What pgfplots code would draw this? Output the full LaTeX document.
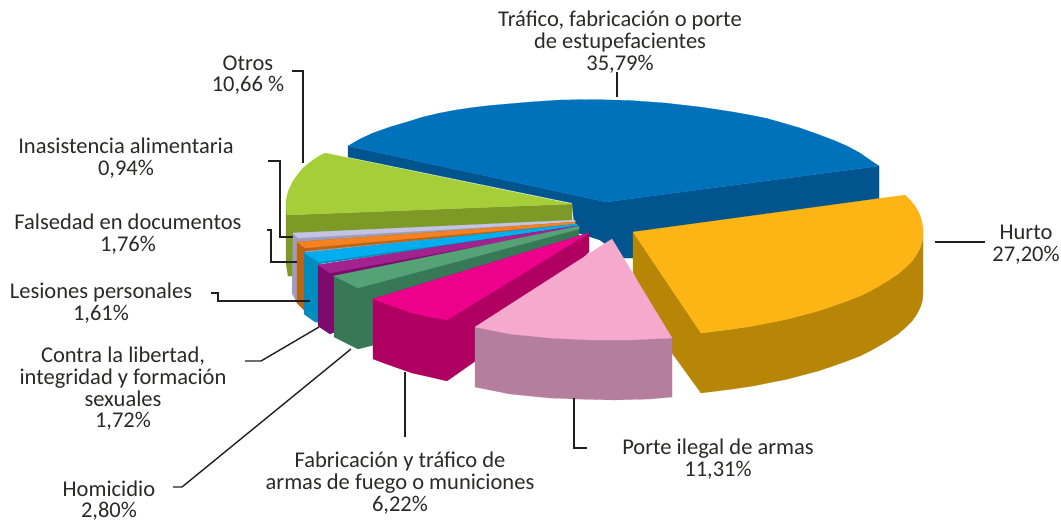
\documentclass[border=0pt]{standalone}
\usepackage{pgfplots}
\usepackage{fontspec}
\setmainfont{Carlito}
\pgfplotsset{compat=1.18}
\definecolor{tx}{HTML}{2B2A29}
\definecolor{ln}{HTML}{231F20}
\definecolor{bluT}{HTML}{0071BB}\definecolor{bluS}{HTML}{00558F}
\definecolor{golT}{HTML}{FDB515}\definecolor{golS}{HTML}{B88607}
\definecolor{pinT}{HTML}{F4A9CD}\definecolor{pinS}{HTML}{B67E9D}
\definecolor{magT}{HTML}{EC008C}\definecolor{magS}{HTML}{AF0061}
\definecolor{grnT}{HTML}{55A277}\definecolor{grnS}{HTML}{377856}
\definecolor{purT}{HTML}{A3238E}\definecolor{purS}{HTML}{7F0A6E}
\definecolor{cyaT}{HTML}{00AEEF}\definecolor{cyaS}{HTML}{008CBF}
\definecolor{oraT}{HTML}{F58220}\definecolor{oraS}{HTML}{BC6414}
\definecolor{lavT}{HTML}{C5C3E3}\definecolor{lavS}{HTML}{9F9DBC}
\definecolor{oliT}{HTML}{A6CE39}\definecolor{oliS}{HTML}{7D9A27}
\tikzset{lab/.style={text=tx,align=center,inner sep=0pt,font=\fontsize{22.5}{21.7}\selectfont}}
\pgfplotsset{face/.style={fill=#1,draw=#1,line width=0.2pt,mark=none,line join=round},
 lead/.style={draw=ln,line width=1.4pt,mark=none,line join=miter}}
\begin{document}
\begin{tikzpicture}
\useasboundingbox (0,0) rectangle (1061pt,523pt);
\begin{axis}[width=1061pt,height=523pt,scale only axis,hide axis,
  xmin=0,xmax=1061,ymin=0,ymax=523,y dir=reverse,clip=true]
% blue
\addplot[face=bluS] coordinates {(348,146)(606,202)(879,166)(879,212)(633,258)(624,258)(600,240)(575,232)(572,203)(348,157)(348,146)};
\addplot[face=bluT] coordinates {(348,146)(360,139)(373,133)(390,127)(407,122)(423,117)(440,113)(456,110)(473,107.5)(490,105.5)(507,104)(530,102)(560,100)(593,99.5)(630,100.5)(665,103)(700,107)(717,109.5)(733,112)(750,115)(767,118.5)(783,123)(800,128)(817,134)(833,140)(847,146)(860,153)(870,160)(879,166)(606,202)(348,146)};
% olive
\addplot[face=oliS] coordinates {(286,205)(287,215)(572,204)(572,222)(300,240)(297,276)(288,276)(286,263)(286,205)};
\addplot[face=oliT] coordinates {(325,153)(319,156)(313,160)(308,164)(303,168)(299,173)(295,178)(292,183)(290,187)(288,192)(287,196)(286,201)(286,205)(287,215)(572,204)(325,153)};
% lavender
\addplot[face=lavS] coordinates {(293,233)(292,293)(297,303)(310,260)(575,224)(575,221)(293,233)};
\addplot[face=lavT] coordinates {(293,233)(575,220)(575,222)(298,238)(293,233)};
% orange
\addplot[face=oraS] coordinates {(297,242)(297,303)(304,310)(305,251)(575,225)(575,222)(297,242)};
\addplot[face=oraT] coordinates {(297,242)(575,222)(575,224)(305,248)(297,242)};
% cyan
\addplot[face=cyaS] coordinates {(304,253)(304,314)(315,322)(319,322)(319,264)(577,227)(577,224)(304,253)};
\addplot[face=cyaT] coordinates {(304,253)(577,224)(577,226)(319,262)(304,253)};
% purple
\addplot[face=purS] coordinates {(318,265)(318,326)(330,334)(335,332)(335,277)(578,229)(577,226)(318,265)};
\addplot[face=purT] coordinates {(318,265)(577,226)(577,228)(330,273)(318,265)};
% green
\addplot[face=grnS] coordinates {(334,276)(334,337)(358,349)(374,345)(374,300)(579,236)(579,227)(334,276)};
\addplot[face=grnT] coordinates {(334,276)(579,226)(579,229)(358,288)(334,276)};
% gold
\addplot[face=golS] coordinates {(633,232)(701,333)(717,331)(733,329)(753,326)(773,322)(788,319)(803,315)(818,311)(833,306)(847,301)(860,296)(870,291)(879,286)(889,280)(898,274)(906,267)(912,261)(917,254)(920.5,247)(922.5,240)(923,233)(923,293)(922.5,300)(920.5,307)(917,314)(912,321)(906,327)(898,334)(889,340)(879,346)(870,351)(860,356)(847,361)(833,366)(818,371)(803,375)(788,379)(773,382)(753,386)(733,389)(717,391)(701,393)(672,353)(633,272)(633,232)};
\addplot[face=golT] coordinates {(633,232)(905,195)(910,200)(915,206)(919,213)(921.5,220)(923,228)(923,233)(922.5,240)(920.5,247)(917,254)(912,261)(906,267)(898,274)(889,280)(879,286)(870,291)(860,296)(847,301)(833,306)(818,311)(803,315)(788,319)(773,322)(753,326)(733,329)(717,331)(701,333)(633,232)};
% magenta
\addplot[face=magS] coordinates {(373,299)(373,359)(392,366)(412,373)(430,377)(447,381)(474,362)(589,252)(589,233)(373,299)};
\addplot[face=magT] coordinates {(373,299)(589,233)(447,320)(430,317)(412,313)(392,306)(373,299)};
% pink
\addplot[face=pinS] coordinates {(475,327)(475,387)(490,390)(510,394)(530,396)(550,398)(575,399)(614,400)(650,399)(672,397)(672,338)(475,327)};
\addplot[face=pinT] coordinates {(612,239)(475,327)(490,330)(510,334)(530,336)(550,338)(570,339)(590,340)(610,340)(630,340)(650,339)(672,338)(612,239)};
% leader lines
\addplot[lead] coordinates {(292,71)(303,71)(303,163)};
\addplot[lead] coordinates {(268,161)(280,161)(280,237)(293,237)};
\addplot[lead] coordinates {(267,230)(271,230)(271,262)(297,262)};
\addplot[lead] coordinates {(211,293)(218,293)(218,301)(310,301)};
\addplot[lead] coordinates {(245,361)(261,361)(319,327)};
\addplot[lead] coordinates {(173,487)(182,487)(351,349)};
\addplot[lead] coordinates {(405,372)(405,437)};
\addplot[lead] coordinates {(574,398)(574,448)(587,448)};
\addplot[lead] coordinates {(935,242)(985,242)};
\addplot[lead] coordinates {(617,72)(617,97)};
% labels
\node[lab] at (axis cs:620,42) {Tráfico, fabricación o porte\\de estupefacientes\\35,79\%};
\node[lab] at (axis cs:1026,245) {Hurto\\27,20\%};
\node[lab] at (axis cs:718,459) {Porte ilegal de armas\\11,31\%};
\node[lab] at (axis cs:400,483) {Fabricación y tráfico de\\armas de fuego o municiones\\6,22\%};
\node[lab] at (axis cs:109,500.5) {Homicidio\\2,80\%};
\node[lab] at (axis cs:123,389) {Contra la libertad,\\integridad y formación\\sexuales\\1,72\%};
\node[lab] at (axis cs:101,303) {Lesiones personales\\1,61\%};
\node[lab] at (axis cs:128,234) {Falsedad en documentos\\1,76\%};
\node[lab] at (axis cs:126,158) {Inasistencia alimentaria\\0,94\%};
\node[lab] at (axis cs:248,75) {Otros\\10,66 \%};
\end{axis}
\end{tikzpicture}
\end{document}
